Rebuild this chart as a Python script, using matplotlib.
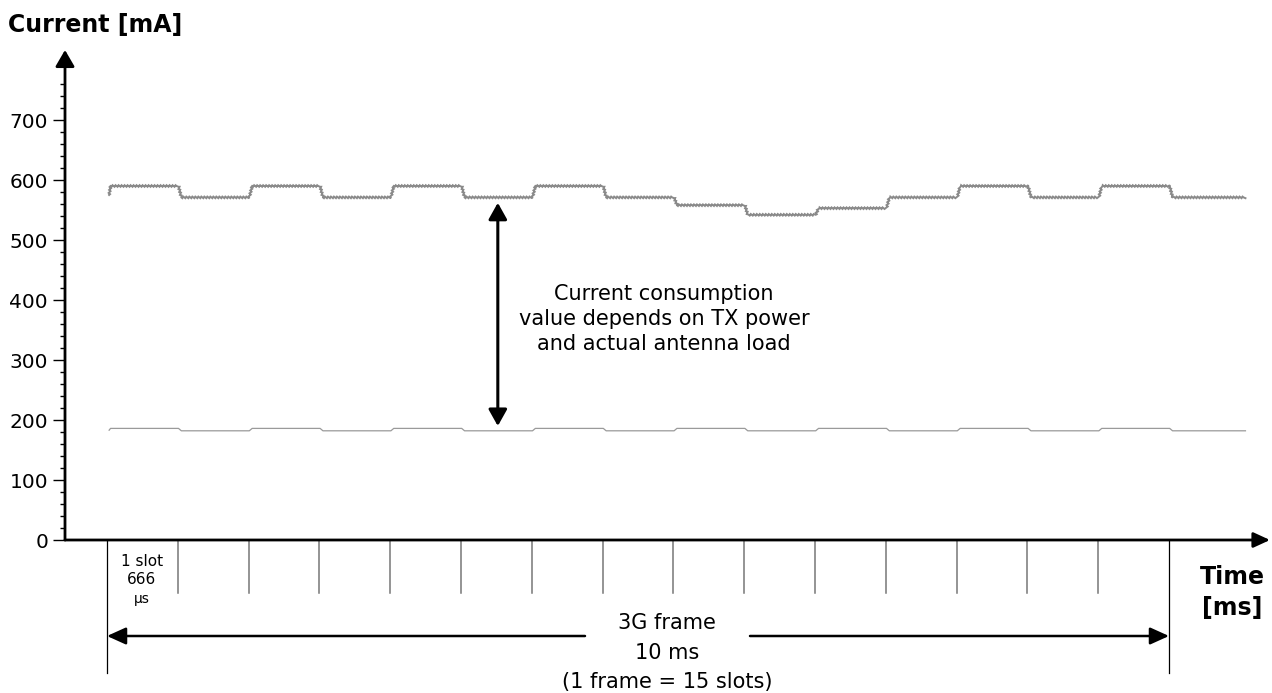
import matplotlib
matplotlib.use("Agg")
import matplotlib.pyplot as plt
import numpy as np

# ---- data ----
n_slots = 15
upper_levels = [590, 571, 590, 571, 590, 571, 590, 571, 558, 542, 553, 571, 590, 571, 590, 571]
upper_start = 575
lower_levels = [186, 182, 186, 182, 186, 182, 186, 182, 186, 182, 186, 182, 186, 182, 186, 182]
lower_start = 183
y_major = [0, 100, 200, 300, 400, 500, 600, 700]
y_minor = [v for v in range(20, 780, 20) if v % 100 != 0]
arrow_low, arrow_high = 190, 562
arrow_slot = 5.52
note_text = "Current consumption\nvalue depends on TX power\nand actual antenna load"
frame_lines = ["3G frame", "10 ms", "(1 frame = 15 slots)"]
slot_lines = ["1 slot", "666", "µs"]

W, H = 1272, 693
fig = plt.figure(figsize=(W / 100, H / 100), dpi=100)
plt.rcParams['font.family'] = ['DejaVu Sans']

# axes geometry in pixels
x_left_px, x_right_px = 65, 1270
y_bot_px, y_top_px = 540, 50
x0_px, slot_px = 107, 70.8
mA_px = 0.6

ax = fig.add_axes([x_left_px / W, (H - y_bot_px) / H,
                   (x_right_px - x_left_px) / W, (y_bot_px - y_top_px) / H])
ax.set_xlim((x_left_px - x0_px) / slot_px, (x_right_px - x0_px) / slot_px)
ax.set_ylim(0, (y_bot_px - y_top_px) / mA_px)
for s in ax.spines.values():
    s.set_visible(False)
ax.set_xticks([])
ax.set_yticks(y_major)
ax.set_yticks(y_minor, minor=True)
ax.tick_params(axis='y', which='major', length=8.6, width=1.0, pad=3.6,
               labelsize=14.5, color='black')
ax.tick_params(axis='y', which='minor', length=3.6, width=1.0, color='black')

def ypix(p):
    return (y_bot_px - p) / mA_px

def xpix(p):
    return (p - x0_px) / slot_px

xl, xr = ax.get_xlim()
yb, yt = ax.get_ylim()

def arrow(xy_to, xy_from, hl, hw, lw):
    ax.annotate('', xy=xy_to, xytext=xy_from, annotation_clip=False,
                arrowprops=dict(arrowstyle=f'-|>,head_length={hl},head_width={hw}',
                                lw=lw, color='black', shrinkA=0, shrinkB=0,
                                mutation_scale=1))

# axes arrows
arrow((xr, 0), (xl, 0), 10.0, 4.6, 2.0)
arrow((xl, yt), (xl, 0), 10.0, 5.8, 2.0)

# traces
def trace(levels, start):
    xs, ys = [0.03, 0.05], [start, levels[0]]
    for i, v in enumerate(levels):
        if i > 0:
            xs.append(i + 0.05)
            ys.append(v)
        xs.append(i + 1.01)
        ys.append(v)
    xs[-1] = len(levels) + 0.08
    return xs, ys

ux, uy = trace(upper_levels, upper_start)
lu, = ax.plot(ux, uy, color='#8a8a8a', lw=1.4, solid_joinstyle='miter')
lu.set_sketch_params(0.9, 3.0, 1.0)
lx, ly = trace(lower_levels, lower_start)
ll, = ax.plot(lx, ly, color='#9a9a9a', lw=0.9)
ll.set_sketch_params(0.5, 2.0, 1.0)

# double arrow
ax.annotate('', xy=(arrow_slot, arrow_high), xytext=(arrow_slot, arrow_low),
            annotation_clip=False,
            arrowprops=dict(arrowstyle='<|-|>,head_length=10.0,head_width=5.6',
                            lw=2.2, color='black', shrinkA=0, shrinkB=0,
                            mutation_scale=1))

ax.text(xpix(664), ypix(319), note_text, ha='center', va='center',
        fontsize=15, linespacing=1.33)

# slot separators
for i in range(1, n_slots):
    ax.plot([i, i], [0, ypix(593)], color='#777777', lw=1.1, clip_on=False)
for i in (0, n_slots):
    ax.plot([i, i], [0, ypix(673)], color='black', lw=0.9, clip_on=False)

# frame arrows with gap for text
gap_l, gap_r = xpix(585), xpix(750)
yf = ypix(636)
arrow((0, yf), (gap_l, yf), 11.5, 5.2, 1.8)
arrow((n_slots, yf), (gap_r, yf), 11.5, 5.2, 1.8)

for t, p in zip(frame_lines, [623, 653, 682]):
    ax.text(xpix(667), ypix(p), t, ha='center', va='center', fontsize=15,
            clip_on=False)

for t, p, fs in zip(slot_lines, [561, 580, 599], [11, 11, 10]):
    ax.text(xpix(142), ypix(p), t, ha='center', va='center', fontsize=fs,
            clip_on=False)

# axis labels
ax.text(xpix(1232), ypix(577), "Time", ha='center', va='center', fontsize=17,
        fontweight='bold', clip_on=False)
ax.text(xpix(1232), ypix(608), "[ms]", ha='center', va='center', fontsize=17,
        fontweight='bold', clip_on=False)
ax.text(xpix(8), ypix(25), "Current [mA]", ha='left', va='center', fontsize=17,
        fontweight='bold', clip_on=False)

fig.savefig("out.png", dpi=100)
